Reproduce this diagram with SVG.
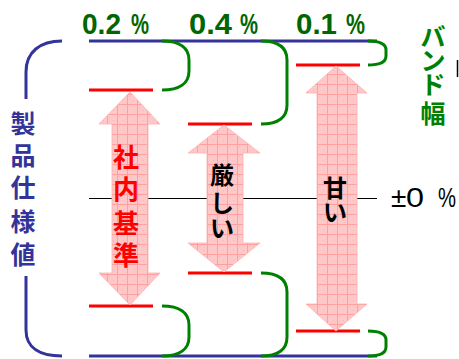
<svg xmlns="http://www.w3.org/2000/svg" width="459" height="359" viewBox="0 0 459 359">
<defs>
<pattern id="grid" patternUnits="userSpaceOnUse" x="7" y="4" width="10" height="10">
<rect width="10" height="10" fill="#ffc8c8"/>
<rect x="2" y="2" width="1" height="1" fill="#ffb4b4"/>
<rect x="6" y="6" width="1" height="1" fill="#ffb4b4"/>
<path d="M0.5,0V10M0,0.5H10" stroke="#ffa0a0" stroke-width="1"/>
</pattern>
<style>
.blue{fill:none;stroke:#333399;stroke-width:3}
.green{fill:none;stroke:#008000;stroke-width:3}
.red{fill:none;stroke:#ff0000;stroke-width:3}
.arrow{fill:url(#grid);stroke:#ffb0b0;stroke-width:0.8}
.pct{font-family:"Liberation Sans",Arial,sans-serif;font-size:30px;font-weight:bold;fill:#006600}
.jp{font-family:"Noto Sans CJK JP","Noto Sans CJK SC",sans-serif;font-weight:bold;text-anchor:middle;dominant-baseline:central}
</style>
</defs>
<rect width="459" height="359" fill="#ffffff"/>
<g id="zero-line">
<line x1="89" y1="198.5" x2="377" y2="198.5" stroke="#000" stroke-width="1"/>
</g>
<g id="connectors">
<path class="blue" d="M89,41H377M89,356H377"/>
<path class="blue" d="M62,41C40,41 26,52 26,72V99M26,276V330C26,348 40,356 62,356"/>
<path class="green" d="M162,41C180,41 189,48 189,60V71C189,83 180,90 162,90"/>
<path class="green" d="M162,306C180,306 189,313 189,325V337C189,349 180,356 162,356"/>
<path class="green" d="M261,41C279,41 287,48 287,60V105C287,117 279,124 261,124"/>
<path class="green" d="M261,273C279,273 287,280 287,292V337C287,349 279,356 261,356"/>
<path class="green" d="M368,41C380,41 386,44 386,50V56C386,62 380,65 368,65"/>
<path class="green" d="M368,331C380,331 386,334 386,340V347C386,353 380,356 368,356"/>
<path class="red" d="M89,90H153M89,306H153"/>
<path class="red" d="M188,124H252M188,273H252"/>
<path class="red" d="M296,65H360M296,331H360"/>
</g>
<g id="arrow-shanai">
<path class="arrow" d="M130,92L160,124H148V273H160L130,305L99,273H112V124H99Z"/>
<text class="jp" x="126" font-size="26" fill="#ff0000"><tspan x="126" y="154.5">社</tspan><tspan x="126" y="187">内</tspan><tspan x="126" y="220.5">基</tspan><tspan x="126" y="253">準</tspan></text>
</g>
<g id="arrow-kibishii">
<path class="arrow" d="M224,125L260,153H243V243H260L224,272L188,243H207V153H188Z"/>
<text class="jp" x="222" font-size="24" fill="#000"><tspan x="222" y="173">厳</tspan><tspan x="222" y="201">し</tspan><tspan x="222" y="226">い</tspan></text>
</g>
<g id="arrow-amai">
<path class="arrow" d="M336,66L367,93H357V304H367L336,331L306,304H317V93H306Z"/>
<text class="jp" x="335" font-size="24" fill="#000"><tspan x="335" y="186">甘</tspan><tspan x="335" y="210">い</tspan></text>
</g>
<g id="label-spec">
<text class="jp" x="23" font-size="25" fill="#333399"><tspan x="23" y="121.5">製</tspan><tspan x="23" y="154">品</tspan><tspan x="23" y="186">仕</tspan><tspan x="23" y="219.5">様</tspan><tspan x="23" y="252.5">値</tspan></text>
</g>
<g id="label-band">
<text class="jp" x="433" font-size="25" fill="#008000"><tspan x="433" y="35">バ</tspan><tspan x="433" y="59">ン</tspan><tspan x="433" y="83">ド</tspan><tspan x="433" y="112">幅</tspan></text>
<line x1="457.5" y1="60" x2="457.5" y2="77" stroke="#000" stroke-width="1.5"/>
</g>
<g id="label-pct">
<text class="pct" y="34"><tspan x="82" textLength="39" lengthAdjust="spacingAndGlyphs">0.2</tspan> <tspan x="131" textLength="18" lengthAdjust="spacingAndGlyphs">%</tspan></text>
<text class="pct" y="34"><tspan x="189" textLength="43" lengthAdjust="spacingAndGlyphs">0.4</tspan> <tspan x="240" textLength="18" lengthAdjust="spacingAndGlyphs">%</tspan></text>
<text class="pct" y="34"><tspan x="296" textLength="41" lengthAdjust="spacingAndGlyphs">0.1</tspan> <tspan x="346" textLength="19" lengthAdjust="spacingAndGlyphs">%</tspan></text>
</g>
<g id="label-zero">
<text font-family="'Liberation Sans',Arial,sans-serif" font-size="28" fill="#000" y="207"><tspan x="391">±</tspan><tspan x="406" textLength="18" lengthAdjust="spacingAndGlyphs">0</tspan> <tspan x="438" textLength="18" lengthAdjust="spacingAndGlyphs">%</tspan></text>
</g>
</svg>
